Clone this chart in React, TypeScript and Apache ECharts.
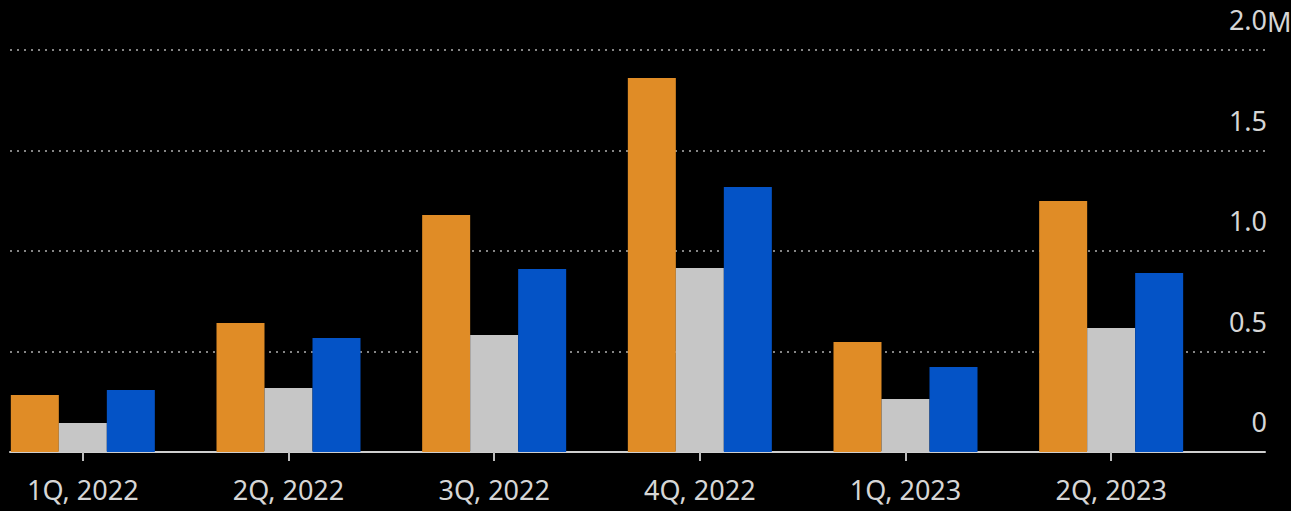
import React, { useEffect, useRef } from "react";
import * as echarts from "echarts";

const categories = ["1Q, 2022", "2Q, 2022", "3Q, 2022", "4Q, 2022", "1Q, 2023", "2Q, 2023"];
const seriesOrange = [284000, 642000, 1179000, 1861000, 547000, 1249000];
const seriesGray = [144000, 318000, 582000, 915000, 264000, 617000];
const seriesBlue = [308000, 567000, 910000, 1318000, 423000, 891000];
const yTicks = [0, 500000, 1000000, 1500000, 2000000];
const yTickLabels = ["0", "0.5", "1.0", "1.5", "2.0"];

const FONT = "Noto Sans";
const SHIFT = 20;

export default function App() {
  const ref = useRef<HTMLDivElement>(null);
  useEffect(() => {
    if (!ref.current) return;
    const chart = echarts.init(ref.current, undefined, { renderer: "svg" });
    const barSeries = (name: string, data: number[], color: string) => ({
      type: "bar",
      name,
      data,
      xAxisIndex: 0,
      yAxisIndex: 0,
      barWidth: 48,
      barGap: "0%",
      itemStyle: { color },
      z: 5,
    });
    chart.setOption({
      animation: false,
      backgroundColor: "#000000",
      grid: [
        { left: 0, right: 77, top: 50, bottom: 59 },
        { left: 10 + SHIFT, right: 26, top: 50, bottom: 59 },
      ],
      xAxis: [
        {
          type: "category",
          gridIndex: 0,
          data: categories,
          axisLine: { show: false },
          axisTick: {
            show: true,
            alignWithLabel: true,
            length: 9,
            lineStyle: { color: "#bdbdbd", width: 2 },
          },
          axisLabel: {
            color: "#d6d6d6",
            fontFamily: FONT,
            fontSize: 27,
            margin: 24,
          },
        },
        {
          type: "value",
          gridIndex: 1,
          min: 0,
          max: 1,
          axisLine: { show: true, onZero: false, lineStyle: { color: "#cfcfcf", width: 2 } },
          axisTick: { show: false },
          axisLabel: { show: false },
          splitLine: { show: false },
        },
      ],
      yAxis: [
        {
          type: "value",
          gridIndex: 0,
          min: 0,
          max: 2000000,
          interval: 500000,
          axisLine: { show: false },
          axisTick: { show: false },
          axisLabel: { show: false },
          splitLine: { show: false },
        },
        {
          type: "value",
          gridIndex: 1,
          position: "right",
          min: 0,
          max: 2000000,
          interval: 500000,
          axisLine: { show: false },
          axisTick: { show: false },
          splitLine: {
            show: true,
            lineStyle: { color: "#858585", width: 2, type: [2, 5] },
          },
          axisLabel: {
            color: "#d6d6d6",
            fontFamily: FONT,
            fontSize: 27,
            align: "right",
            verticalAlign: "bottom",
            margin: 2,
            padding: [0, 0, 17, 0],
            formatter: (v: number) => {
              const i = yTicks.indexOf(v);
              return i >= 0 ? yTickLabels[i] : "";
            },
          },
        },
      ],
      graphic: [
        {
          type: "text",
          x: 1267 + SHIFT,
          y: 21,
          style: {
            text: "M",
            fill: "#d6d6d6",
            font: `27px "${FONT}"`,
            textAlign: "left",
            textVerticalAlign: "middle",
          },
        },
      ],
      series: [
        barSeries("Orange", seriesOrange, "#E08C26"),
        barSeries("Gray", seriesGray, "#C6C6C6"),
        barSeries("Blue", seriesBlue, "#0453C6"),
      ],
    });
    return () => chart.dispose();
  }, []);
  return (
    <div
      ref={ref}
      style={{
        position: "fixed",
        left: -SHIFT,
        top: 0,
        width: 1291 + SHIFT,
        height: 511,
        background: "#000",
      }}
    />
  );
}
